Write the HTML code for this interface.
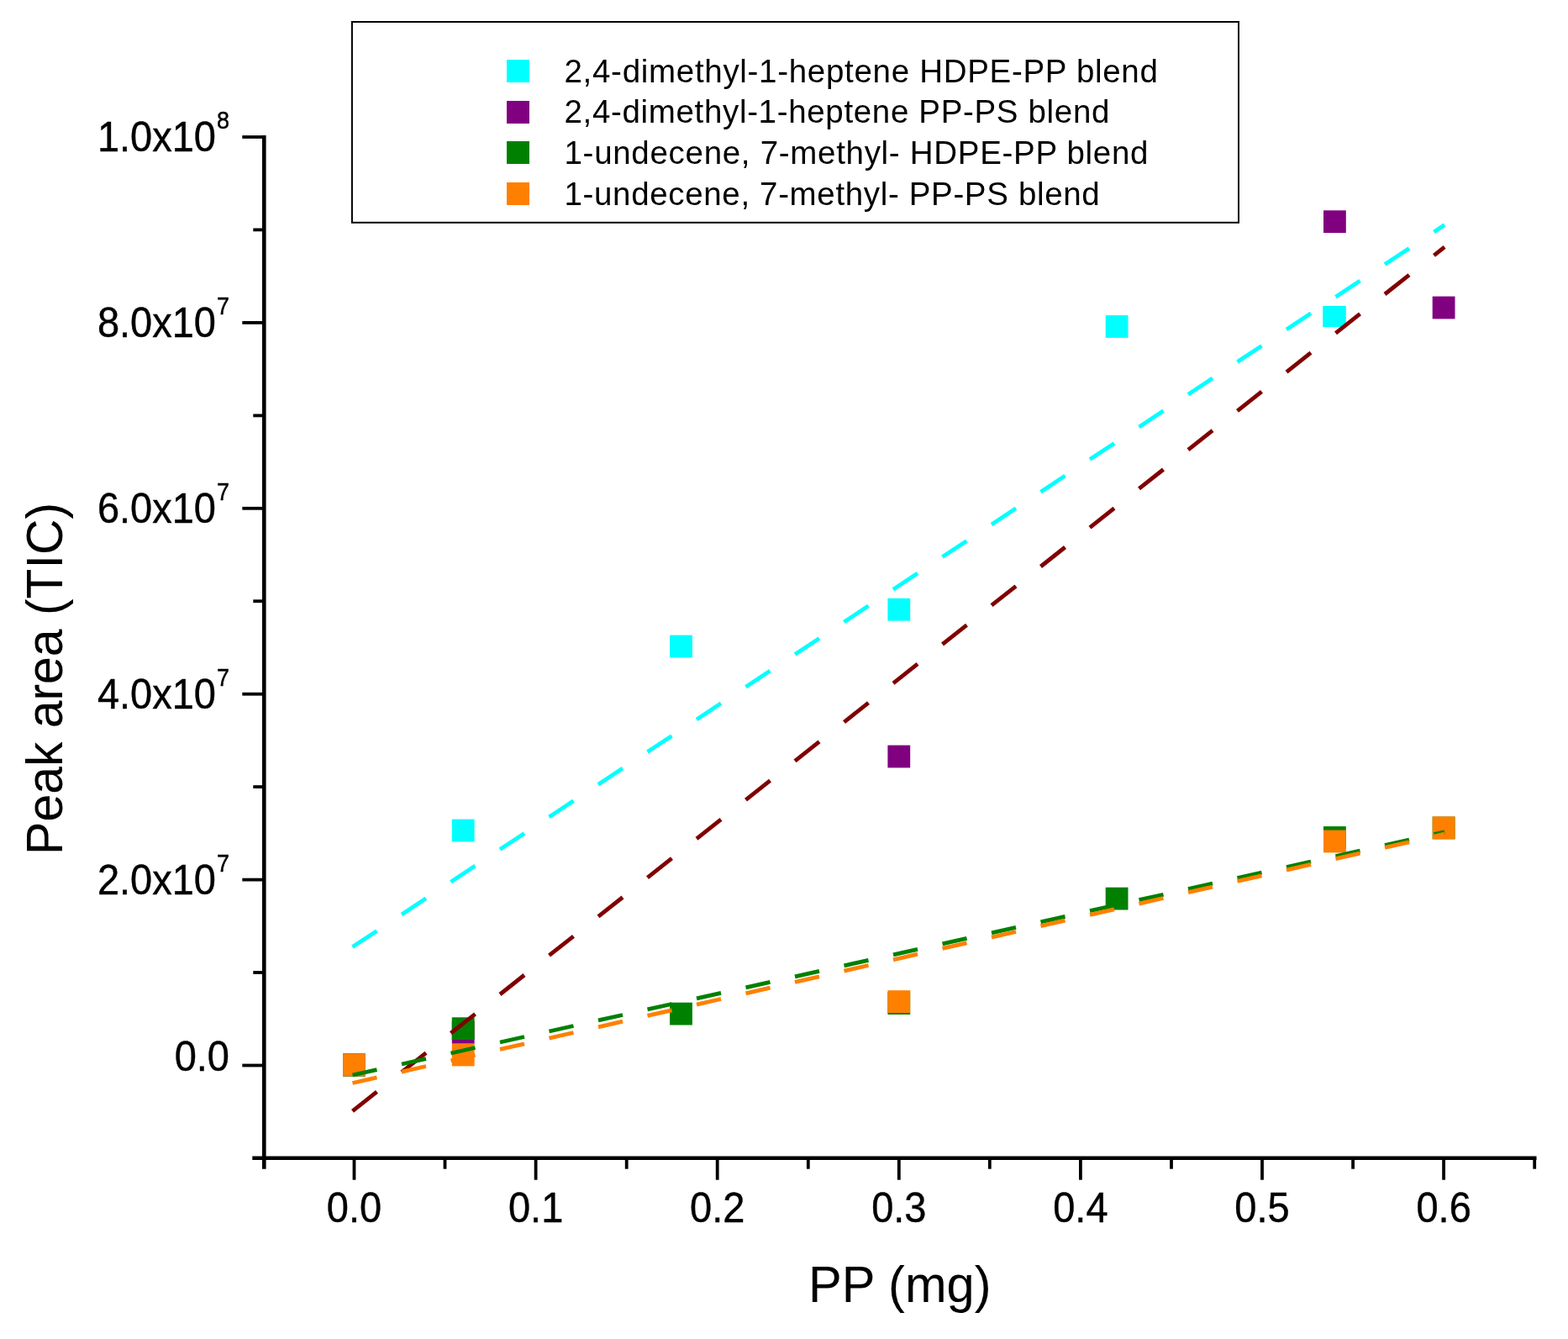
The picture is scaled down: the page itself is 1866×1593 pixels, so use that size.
<!DOCTYPE html>
<html><head><meta charset="utf-8"><title>Peak area vs PP</title>
<style>html,body{margin:0;padding:0;background:#fff;}svg{display:block;}text{font-family:"Liberation Sans", Arial, Helvetica, sans-serif;fill:#000;}</style>
</head><body>
<svg width="1866" height="1593" viewBox="0 0 1866 1593">
<rect x="0" y="0" width="1866" height="1593" fill="#fff"/>
<g>
<rect x="408.1" y="1253.6" width="26.8" height="26.8" fill="#00ffff"/>
<rect x="537.8" y="974.6" width="26.8" height="26.8" fill="#00ffff"/>
<rect x="797.1" y="755.6" width="26.8" height="26.8" fill="#00ffff"/>
<rect x="1056.4" y="711.8" width="26.8" height="26.8" fill="#00ffff"/>
<rect x="1315.7" y="375.1" width="26.8" height="26.8" fill="#00ffff"/>
<rect x="1574.2" y="364.0" width="27.6" height="25.0" fill="#00ffff"/>
<rect x="408.1" y="1253.6" width="26.8" height="26.8" fill="#800080"/>
<rect x="537.8" y="1214.9" width="26.8" height="26.8" fill="#800080"/>
<rect x="1056.4" y="886.6" width="26.8" height="26.8" fill="#800080"/>
<rect x="1575.0" y="250.3" width="26.8" height="26.8" fill="#800080"/>
<rect x="1704.7" y="352.6" width="26.8" height="26.8" fill="#800080"/>
<rect x="408.1" y="1253.6" width="26.8" height="26.8" fill="#008000"/>
<rect x="537.8" y="1210.3" width="26.8" height="26.8" fill="#008000"/>
<rect x="797.1" y="1192.7" width="26.8" height="26.8" fill="#008000"/>
<rect x="1056.4" y="1180.2" width="26.8" height="26.8" fill="#008000"/>
<rect x="1315.7" y="1055.7" width="26.8" height="26.8" fill="#008000"/>
<rect x="1575.0" y="983.1" width="26.8" height="26.8" fill="#008000"/>
<rect x="1704.7" y="971.6" width="26.8" height="26.8" fill="#008000"/>
<rect x="408.1" y="1253.6" width="26.8" height="26.8" fill="#ff8000"/>
<rect x="537.8" y="1241.6" width="26.8" height="26.8" fill="#ff8000"/>
<rect x="1056.4" y="1178.2" width="26.8" height="26.8" fill="#ff8000"/>
<rect x="1575.0" y="987.6" width="26.8" height="26.8" fill="#ff8000"/>
<rect x="1704.7" y="971.4" width="26.8" height="26.8" fill="#ff8000"/>
</g>
<path d="M419.5 1126.6L448.5 1107.5M478.0 1088.0L507.0 1068.8M536.5 1049.3L565.5 1030.1M595.0 1010.6L624.0 991.5M653.5 972.0L682.5 952.8M712.0 933.3L741.0 914.1M770.5 894.6L799.5 875.5M829.0 856.0L858.0 836.8M887.5 817.3L916.5 798.1M946.0 778.6L975.0 759.5M1004.5 740.0L1033.5 720.8M1063.0 701.3L1092.0 682.1M1121.5 662.6L1150.5 643.5M1180.0 624.0L1209.0 604.8M1238.5 585.3L1267.5 566.1M1297.0 546.6L1326.0 527.5M1355.5 508.0L1384.5 488.8M1414.0 469.3L1443.0 450.1M1472.5 430.6L1501.5 411.5M1531.0 392.0L1560.0 372.8M1589.5 353.3L1618.5 334.1M1648.0 314.6L1677.0 295.5M1706.5 276.0L1719.1 267.6" stroke="#00ffff" stroke-width="4.8" fill="none" stroke-linecap="butt"/>
<path d="M419.5 1321.8L448.5 1298.8M478.0 1275.5L507.0 1252.6M536.5 1229.2L565.5 1206.3M595.0 1183.0L624.0 1160.0M653.5 1136.7L682.5 1113.8M712.0 1090.4L741.0 1067.5M770.5 1044.1L799.5 1021.2M829.0 997.9L858.0 974.9M887.5 951.6L916.5 928.7M946.0 905.3L975.0 882.4M1004.5 859.1L1033.5 836.1M1063.0 812.8L1092.0 789.8M1121.5 766.5L1150.5 743.6M1180.0 720.2L1209.0 697.3M1238.5 674.0L1267.5 651.0M1297.0 627.7L1326.0 604.7M1355.5 581.4L1384.5 558.5M1414.0 535.1L1443.0 512.2M1472.5 488.9L1501.5 465.9M1531.0 442.6L1560.0 419.7M1589.5 396.3L1618.5 373.4M1648.0 350.0L1677.0 327.1M1706.5 303.8L1719.1 293.8" stroke="#800000" stroke-width="4.8" fill="none" stroke-linecap="butt"/>
<path d="M419.5 1279.0L448.5 1272.6M478.0 1266.0L507.0 1259.6M536.5 1253.0L565.5 1246.5M595.0 1240.0L624.0 1233.5M653.5 1227.0L682.5 1220.5M712.0 1213.9L741.0 1207.5M770.5 1200.9L799.5 1194.5M829.0 1187.9L858.0 1181.4M887.5 1174.9L916.5 1168.4M946.0 1161.9L975.0 1155.4M1004.5 1148.8L1033.5 1142.4M1063.0 1135.8L1092.0 1129.4M1121.5 1122.8L1150.5 1116.3M1180.0 1109.8L1209.0 1103.3M1238.5 1096.8L1267.5 1090.3M1297.0 1083.7L1326.0 1077.3M1355.5 1070.7L1384.5 1064.3M1414.0 1057.7L1443.0 1051.2M1472.5 1044.7L1501.5 1038.2M1531.0 1031.6L1560.0 1025.2M1589.5 1018.6L1618.5 1012.2M1648.0 1005.6L1677.0 999.1M1706.5 992.6L1719.1 989.8" stroke="#008000" stroke-width="4.8" fill="none" stroke-linecap="butt"/>
<path d="M419.5 1288.5L448.5 1281.8M478.0 1275.1L507.0 1268.5M536.5 1261.8L565.5 1255.2M595.0 1248.4L624.0 1241.8M653.5 1235.1L682.5 1228.5M712.0 1221.8L741.0 1215.2M770.5 1208.4L799.5 1201.8M829.0 1195.1L858.0 1188.5M887.5 1181.8L916.5 1175.1M946.0 1168.4L975.0 1161.8M1004.5 1155.1L1033.5 1148.5M1063.0 1141.8L1092.0 1135.1M1121.5 1128.4L1150.5 1121.8M1180.0 1115.1L1209.0 1108.5M1238.5 1101.7L1267.5 1095.1M1297.0 1088.4L1326.0 1081.8M1355.5 1075.1L1384.5 1068.5M1414.0 1061.7L1443.0 1055.1M1472.5 1048.4L1501.5 1041.8M1531.0 1035.1L1560.0 1028.4M1589.5 1021.7L1618.5 1015.1M1648.0 1008.4L1677.0 1001.8M1706.5 995.0L1719.1 992.2" stroke="#ff8000" stroke-width="4.8" fill="none" stroke-linecap="butt"/>
<g stroke="#000" fill="none">
<line x1="314.3" y1="161.1" x2="314.3" y2="1390.7" stroke-width="4.6"/>
<line x1="300.3" y1="1377.7" x2="1828.5" y2="1377.7" stroke-width="4.6"/>
<line x1="288.3" y1="1267.5" x2="314.3" y2="1267.5" stroke-width="3.8"/>
<line x1="301.3" y1="1157.0" x2="314.3" y2="1157.0" stroke-width="3.8"/>
<line x1="288.3" y1="1046.6" x2="314.3" y2="1046.6" stroke-width="3.8"/>
<line x1="301.3" y1="936.1" x2="314.3" y2="936.1" stroke-width="3.8"/>
<line x1="288.3" y1="825.7" x2="314.3" y2="825.7" stroke-width="3.8"/>
<line x1="301.3" y1="715.2" x2="314.3" y2="715.2" stroke-width="3.8"/>
<line x1="288.3" y1="604.8" x2="314.3" y2="604.8" stroke-width="3.8"/>
<line x1="301.3" y1="494.4" x2="314.3" y2="494.4" stroke-width="3.8"/>
<line x1="288.3" y1="383.9" x2="314.3" y2="383.9" stroke-width="3.8"/>
<line x1="301.3" y1="273.4" x2="314.3" y2="273.4" stroke-width="3.8"/>
<line x1="288.3" y1="163.0" x2="314.3" y2="163.0" stroke-width="3.8"/>
<line x1="421.5" y1="1377.7" x2="421.5" y2="1403.7" stroke-width="3.8"/>
<line x1="529.5" y1="1377.7" x2="529.5" y2="1390.7" stroke-width="3.8"/>
<line x1="637.6" y1="1377.7" x2="637.6" y2="1403.7" stroke-width="3.8"/>
<line x1="745.7" y1="1377.7" x2="745.7" y2="1390.7" stroke-width="3.8"/>
<line x1="853.7" y1="1377.7" x2="853.7" y2="1403.7" stroke-width="3.8"/>
<line x1="961.8" y1="1377.7" x2="961.8" y2="1390.7" stroke-width="3.8"/>
<line x1="1069.8" y1="1377.7" x2="1069.8" y2="1403.7" stroke-width="3.8"/>
<line x1="1177.8" y1="1377.7" x2="1177.8" y2="1390.7" stroke-width="3.8"/>
<line x1="1285.9" y1="1377.7" x2="1285.9" y2="1403.7" stroke-width="3.8"/>
<line x1="1394.0" y1="1377.7" x2="1394.0" y2="1390.7" stroke-width="3.8"/>
<line x1="1502.0" y1="1377.7" x2="1502.0" y2="1403.7" stroke-width="3.8"/>
<line x1="1610.1" y1="1377.7" x2="1610.1" y2="1390.7" stroke-width="3.8"/>
<line x1="1718.1" y1="1377.7" x2="1718.1" y2="1403.7" stroke-width="3.8"/>
<line x1="1826.2" y1="1377.7" x2="1826.2" y2="1390.7" stroke-width="3.8"/>
</g>
<g stroke="#000" stroke-width="0.4">
<text transform="translate(257.0 180.2) scale(1 1.06)" font-size="47" text-anchor="end">1.0x10</text>
<text transform="translate(273.0 153.2) scale(1 1.06)" font-size="27" text-anchor="end">8</text>
<text transform="translate(257.0 401.1) scale(1 1.06)" font-size="47" text-anchor="end">8.0x10</text>
<text transform="translate(273.0 374.1) scale(1 1.06)" font-size="27" text-anchor="end">7</text>
<text transform="translate(257.0 622.0) scale(1 1.06)" font-size="47" text-anchor="end">6.0x10</text>
<text transform="translate(273.0 595.0) scale(1 1.06)" font-size="27" text-anchor="end">7</text>
<text transform="translate(257.0 842.9) scale(1 1.06)" font-size="47" text-anchor="end">4.0x10</text>
<text transform="translate(273.0 815.9) scale(1 1.06)" font-size="27" text-anchor="end">7</text>
<text transform="translate(257.0 1063.8) scale(1 1.06)" font-size="47" text-anchor="end">2.0x10</text>
<text transform="translate(273.0 1036.8) scale(1 1.06)" font-size="27" text-anchor="end">7</text>
<text transform="translate(273.0 1274.0) scale(1 1.06)" font-size="47" text-anchor="end">0.0</text>
<text transform="translate(421.5 1453.8) scale(1 1.06)" font-size="47" text-anchor="middle">0.0</text>
<text transform="translate(637.6 1453.8) scale(1 1.06)" font-size="47" text-anchor="middle">0.1</text>
<text transform="translate(853.7 1453.8) scale(1 1.06)" font-size="47" text-anchor="middle">0.2</text>
<text transform="translate(1069.8 1453.8) scale(1 1.06)" font-size="47" text-anchor="middle">0.3</text>
<text transform="translate(1285.9 1453.8) scale(1 1.06)" font-size="47" text-anchor="middle">0.4</text>
<text transform="translate(1502.0 1453.8) scale(1 1.06)" font-size="47" text-anchor="middle">0.5</text>
<text transform="translate(1718.1 1453.8) scale(1 1.06)" font-size="47" text-anchor="middle">0.6</text>
</g>
<text transform="translate(1070.8 1549.4) scale(1 1.025)" font-size="59.6" text-anchor="middle">PP (mg)</text>
<text transform="translate(73.8 807.4) rotate(-90) scale(1 1.049)" font-size="58.9" text-anchor="middle">Peak area (TIC)</text>
<rect x="418.9" y="26.0" width="1055.1" height="238.8" fill="none" stroke="#000" stroke-width="2"/>
<rect x="602.7" y="70.5" width="27" height="27" fill="#00ffff" shape-rendering="crispEdges"/>
<text x="671.5" y="97.5" font-size="38.5" textLength="706.4" lengthAdjust="spacing">2,4-dimethyl-1-heptene HDPE-PP blend</text>
<rect x="602.7" y="120.2" width="27" height="27" fill="#800080" shape-rendering="crispEdges"/>
<text x="671.5" y="146.3" font-size="38.5" textLength="648.9" lengthAdjust="spacing">2,4-dimethyl-1-heptene PP-PS blend</text>
<rect x="602.7" y="168.3" width="27" height="27" fill="#008000" shape-rendering="crispEdges"/>
<text x="671.5" y="195.3" font-size="38.5" textLength="695.0" lengthAdjust="spacing">1-undecene, 7-methyl- HDPE-PP blend</text>
<rect x="602.7" y="217.3" width="27" height="27" fill="#ff8000" shape-rendering="crispEdges"/>
<text x="671.5" y="243.7" font-size="38.5" textLength="637.2" lengthAdjust="spacing">1-undecene, 7-methyl- PP-PS blend</text>
</svg>
</body></html>
